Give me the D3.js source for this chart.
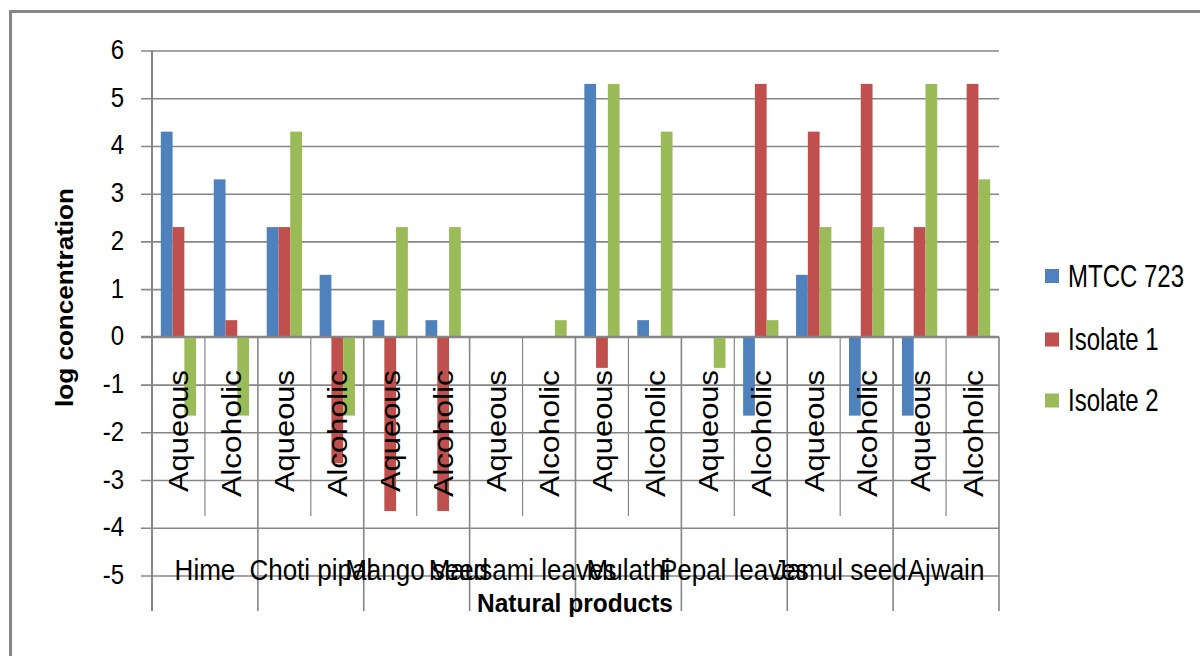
<!DOCTYPE html>
<html>
<head>
<meta charset="utf-8">
<script src="https://cdn.jsdelivr.net/npm/d3@7/dist/d3.min.js"></script>
<style>
  html, body { margin: 0; padding: 0; background: #fff; }
  svg { display: block; }
  text { font-family: "Liberation Sans", Arial, sans-serif; fill: #000; }
</style>
</head>
<body>
<svg id="chart" width="1200" height="656"></svg>
<script>
// Products, each tested as an aqueous and an alcoholic extract
const products = ["Hime", "Choti pipal", "Mango seed", "Mausami leaves", "Mulathi", "Pepal leaves", "Jamul seed", "Ajwain"];
const extracts = ["Aqueous", "Alcoholic"];
const seriesNames = ["MTCC 723", "Isolate 1", "Isolate 2"];
const seriesColors = ["#4F81BD", "#C0504D", "#9BBB59"];

// log concentration per product/extract (Hime Aq, Hime Alc, Choti pipal Aq, ...)
const mtcc723 = [4.3, 3.3, 2.3, 1.3, 0.35, 0.35, 0, 0, 5.3, 0.35, 0, -1.65, 1.3, -1.65, -1.65, 0];
const isolate1 = [2.3, 0.35, 2.3, -2.65, -3.65, -3.65, 0, 0, -0.65, 0, 0, 5.3, 4.3, 5.3, 2.3, 5.3];
const isolate2 = [-1.65, -1.65, 4.3, -1.65, 2.3, 2.3, 0, 0.35, 5.3, 4.3, -0.65, 0.35, 2.3, 2.3, 5.3, 3.3];
const yTicks = [-5, -4, -3, -2, -1, 0, 1, 2, 3, 4, 5, 6];

const seriesValues = [mtcc723, isolate1, isolate2];
const categories = products.flatMap(p => extracts.map(e => ({ product: p, extract: e })));
const idx = d3.range(categories.length);

const svg = d3.select("#chart");
const GRID = "#868686";

const x = d3.scaleBand().domain(idx).range([152, 999]).padding(0);
const xs = d3.scaleBand().domain(d3.range(seriesNames.length))
  .range([0, x.bandwidth()]).paddingInner(0).paddingOuter(0.75);
const y = d3.scaleLinear().domain([-5, 6]).range([575.5, 50.5]);

// stretched text helper: width via textLength, height via vertical scale
function label(g, str, o) {
  const t = g.append("text")
    .attr("font-size", o.size)
    .attr("font-weight", o.weight || "normal")
    .attr("text-anchor", o.len ? "start" : (o.anchor || "start"))
    .text(str);
  let x0 = 0;
  if (o.len) {
    t.attr("textLength", o.len).attr("lengthAdjust", "spacingAndGlyphs");
    if (o.anchor === "middle") x0 = -o.len / 2;
    else if (o.anchor === "end") x0 = -o.len;
  }
  t.attr("x", x0).attr("y", 0);
  const rot = o.rotate ? ` rotate(${o.rotate})` : "";
  t.attr("transform", `translate(${o.x},${o.y})${rot} scale(1,${o.sy || 1})`);
  return t;
}

// outer frame
svg.append("line").attr("x1", 10).attr("x2", 1200).attr("y1", 11.5).attr("y2", 11.5)
  .attr("stroke", GRID).attr("stroke-width", 3);
svg.append("line").attr("x1", 10.5).attr("x2", 10.5).attr("y1", 10).attr("y2", 656)
  .attr("stroke", GRID).attr("stroke-width", 3);

// horizontal gridlines with outside ticks
const yAxis = d3.axisLeft(y).tickValues(yTicks).tickSize(-(999 - 141)).tickFormat("");
const gy = svg.append("g").attr("transform", "translate(999,0)").call(yAxis);
gy.select(".domain").remove();
gy.selectAll(".tick line").attr("stroke", GRID).attr("stroke-width", 1.6)
  .attr("x1", 0).attr("x2", -(999 - 141));

// bars
const bars = svg.append("g");
seriesValues.forEach((vals, s) => {
  bars.selectAll(null).data(idx).enter().append("rect")
    .attr("x", i => x(i) + xs(s))
    .attr("width", xs.bandwidth())
    .attr("y", i => y(Math.max(0, vals[i])))
    .attr("height", i => Math.abs(y(vals[i]) - y(0)))
    .attr("fill", seriesColors[s]);
});

// category axis line at zero
svg.append("line").attr("x1", 141).attr("x2", 999).attr("y1", y(0)).attr("y2", y(0))
  .attr("stroke", GRID).attr("stroke-width", 2);

// category separators: inner between extracts, long between products
const bounds = d3.range(categories.length + 1);
svg.append("g").selectAll("line").data(bounds).enter().append("line")
  .attr("x1", b => b === categories.length ? 999 : x(b))
  .attr("x2", b => b === categories.length ? 999 : x(b))
  .attr("y1", y(0))
  .attr("y2", b => b % 2 === 0 ? 611 : 516)
  .attr("stroke", GRID)
  .attr("stroke-width", b => b % 2 === 0 ? 1.6 : 1.2);

// value axis line
svg.append("line").attr("x1", 152).attr("x2", 152).attr("y1", y(6)).attr("y2", 611)
  .attr("stroke", GRID).attr("stroke-width", 2);

// y tick labels
const tl = svg.append("g");
yTicks.forEach(v => label(tl, String(v), { x: 124, y: y(v) + 8.5, size: 24, anchor: "end", sy: 1.16 }));

// extract labels (rotated)
const el = svg.append("g");
categories.forEach((c, i) => {
  const cx = x(i) + x.bandwidth() / 2;
  label(el, c.extract, {
    x: cx + 10, y: 370, size: 27, anchor: "end",
    len: c.extract === "Aqueous" ? 122 : 127, rotate: -90
  });
});

// product labels
const pl = svg.append("g");
products.forEach((p, k) => {
  const cx = x(2 * k) + x.bandwidth();
  label(pl, p, { x: cx, y: 580, size: 26, anchor: "middle", sy: 1.16 });
});

// axis titles
label(svg, "Natural products", { x: 575, y: 611.5, size: 24, weight: "bold", anchor: "middle", len: 196, sy: 1.1 });
label(svg, "log concentration", { x: 72.5, y: 297.5, size: 24, weight: "bold", anchor: "middle", len: 219, rotate: -90 });

// legend
const lg = svg.append("g");
const legendY = [276, 339.5, 400.5];
seriesNames.forEach((n, s) => {
  lg.append("rect").attr("x", 1045).attr("y", legendY[s] - 7).attr("width", 14).attr("height", 14)
    .attr("fill", seriesColors[s]);
  label(lg, n, { x: 1068, y: legendY[s] + 10.7, size: 24, sy: 1.32 });
});
</script>
</body>
</html>
